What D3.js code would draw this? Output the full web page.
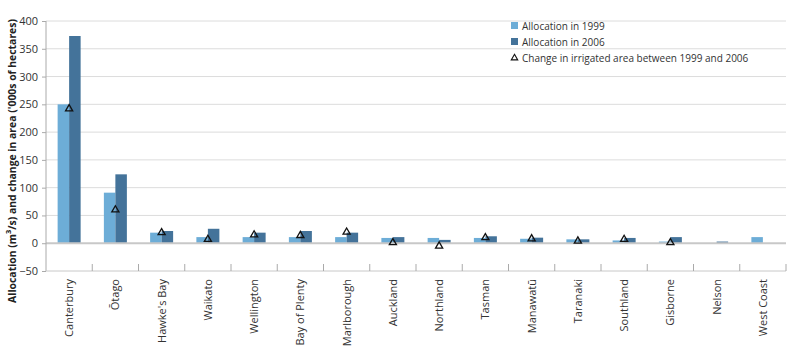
<!DOCTYPE html>
<html>
<head>
<meta charset="utf-8">
<script src="https://cdn.jsdelivr.net/npm/d3@7"></script>
<style>
  body { margin: 0; background: #fff; }
  svg text { font-family: "Open Sans", "Noto Sans", sans-serif; }
</style>
</head>
<body>
<svg width="795" height="347"></svg>
<script>
var regions = ['Canterbury', 'Ōtago', "Hawke's Bay", 'Waikato', 'Wellington', 'Bay of Plenty',
  'Marlborough', 'Auckland', 'Northland', 'Tasman', 'Manawatū', 'Taranaki', 'Southland',
  'Gisborne', 'Nelson', 'West Coast'];
var alloc1999 = [250, 91, 19, 11, 11, 11, 11, 9.5, 9.5, 9.5, 8, 7, 5, 3, 0, 11];
var alloc2006 = [373, 124, 22, 26, 19, 22, 19, 11, 6, 12.5, 10, 7, 9.5, 11, 3, 0];
var areaChange = [242, 60, 19, 7, 15, 14, 20, 1, -5, 10, 8, 4, 7, 1, null, null];
var yTicks = [-50, 0, 50, 100, 150, 200, 250, 300, 350, 400];
var legendLabels = ['Allocation in 1999', 'Allocation in 2006', 'Change in irrigated area between 1999 and 2006'];

var light = '#6dadd7', dark = '#44739a';
var svg = d3.select('svg');
var plotL = 46, plotR = 786, plotT = 21, plotB = 271;

var x = d3.scaleBand().domain(regions).range([plotL, plotR]);
var y = d3.scaleLinear().domain([-50, 400]).range([plotB, plotT]);
var bw = 11.5;

// grid
svg.append('g')
  .selectAll('line')
  .data(yTicks.filter(function (d) { return d > 0; }))
  .enter()
  .append('line')
  .attr('x1', plotL).attr('x2', plotR)
  .attr('y1', function (d) { return y(d); })
  .attr('y2', function (d) { return y(d); })
  .attr('stroke', '#dcdcdc').attr('stroke-width', 1);

// bars
var g = svg.append('g');
g.selectAll('.b99')
  .data(alloc1999)
  .enter()
  .append('rect')
  .attr('x', function (d, i) { return x(regions[i]) + x.bandwidth() / 2 - bw; })
  .attr('width', bw)
  .attr('y', function (d) { return y(d); })
  .attr('height', function (d) { return y(0) - y(d); })
  .attr('fill', light);
g.selectAll('.b06')
  .data(alloc2006)
  .enter()
  .append('rect')
  .attr('x', function (d, i) { return x(regions[i]) + x.bandwidth() / 2; })
  .attr('width', bw)
  .attr('y', function (d) { return y(d); })
  .attr('height', function (d) { return y(0) - y(d); })
  .attr('fill', dark);

// zero line
svg.append('line')
  .attr('x1', plotL).attr('x2', plotR)
  .attr('y1', y(0)).attr('y2', y(0))
  .attr('stroke', '#c8c8c8').attr('stroke-width', 2);

// triangles
var tri = d3.symbol().type(d3.symbolTriangle).size(22);
svg.append('g')
  .selectAll('path')
  .data(areaChange.map(function (d, i) { return { v: d, r: regions[i] }; })
    .filter(function (d) { return d.v !== null; }))
  .enter()
  .append('path')
  .attr('d', tri)
  .attr('transform', function (d) { return 'translate(' + (x(d.r) + x.bandwidth() / 2) + ',' + y(d.v) + ')'; })
  .attr('fill', 'none')
  .attr('stroke', '#111')
  .attr('stroke-width', 1.3);

// y axis
var yAxis = d3.axisLeft(y).tickValues(yTicks).tickSize(4).tickPadding(4);
var ya = svg.append('g').attr('transform', 'translate(' + plotL + ',0)').call(yAxis);
ya.select('.domain').attr('stroke', '#aaa').attr('d', 'M0,' + plotT + 'V' + plotB);
ya.selectAll('.tick line').attr('stroke', '#aaa');
ya.selectAll('text').attr('fill', '#333').style('font-size', '11px').style('font-family', '"Open Sans", sans-serif');

// x axis
svg.append('line')
  .attr('x1', plotL).attr('x2', plotR)
  .attr('y1', plotB).attr('y2', plotB)
  .attr('stroke', '#c8c8c8').attr('stroke-width', 1);
svg.append('g')
  .selectAll('line')
  .data(regions.slice(1).concat(['_end']))
  .enter()
  .append('line')
  .attr('x1', function (d) { return d === '_end' ? plotR : x(d); })
  .attr('x2', function (d) { return d === '_end' ? plotR : x(d); })
  .attr('y1', plotB).attr('y2', plotB - 7)
  .attr('stroke', '#aaa');

svg.append('g')
  .selectAll('text')
  .data(regions)
  .enter()
  .append('text')
  .attr('transform', function (d) { return 'translate(' + (x(d) + x.bandwidth() / 2 + 4) + ',' + (plotB + 8) + ') rotate(-90)'; })
  .attr('text-anchor', 'end')
  .attr('fill', '#333')
  .style('font-size', '11px')
  .text(function (d) { return d; });

// y title
svg.append('text')
  .attr('transform', 'translate(16,161) rotate(-90)')
  .attr('text-anchor', 'middle')
  .attr('fill', '#222')
  .style('font-size', '10.4px')
  .style('font-weight', 'bold')
  .html("Allocation (m<tspan baseline-shift='super' font-size='7.5px'>3</tspan>/s) and change in area ('000s of hectares)");

// legend
var lg = svg.append('g').attr('transform', 'translate(511,0)');
[light, dark].forEach(function (c, i) {
  lg.append('rect').attr('x', 0).attr('y', 22 + i * 16).attr('width', 7).attr('height', 7).attr('fill', c);
});
lg.append('path').attr('d', tri.size(18)).attr('transform', 'translate(3.5,58)')
  .attr('fill', 'none').attr('stroke', '#111').attr('stroke-width', 1.1);
lg.selectAll('text')
  .data(legendLabels)
  .enter()
  .append('text')
  .attr('x', 11)
  .attr('y', function (d, i) { return 29.5 + i * 16; })
  .attr('fill', '#333')
  .style('font-size', '10px')
  .text(function (d) { return d; });
</script>
</body>
</html>
